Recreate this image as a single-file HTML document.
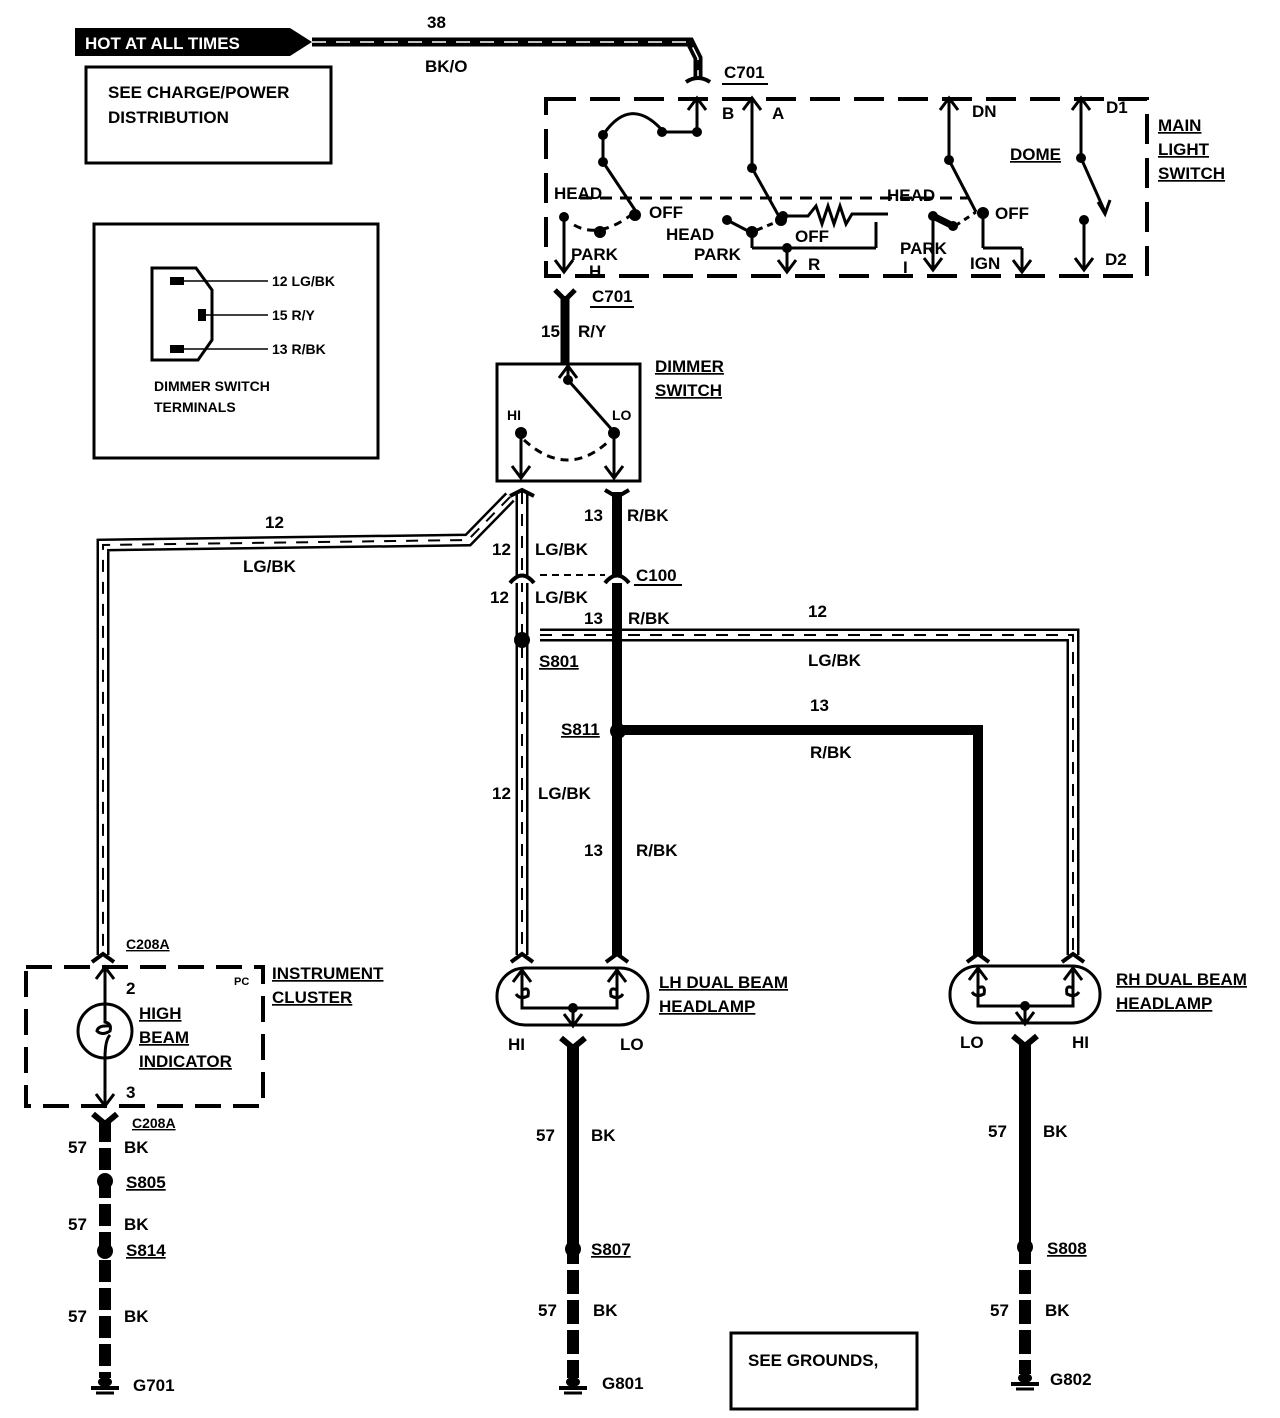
<!DOCTYPE html>
<html><head><meta charset="utf-8"><style>
html,body{margin:0;padding:0;background:#fff;}
svg{display:block}
text{font-family:"Liberation Sans",Arial,sans-serif;font-weight:bold;fill:#000}
.t{font-size:17px}
.s{font-size:14px}
</style></head><body>
<svg width="1280" height="1418" viewBox="0 0 1280 1418" xmlns="http://www.w3.org/2000/svg">
<defs>
<g id="gnd"><line x1="0" y1="0" x2="0" y2="12" stroke="#000" stroke-width="4"/><ellipse cx="0" cy="8" rx="7" ry="5" fill="#000"/><line x1="-14" y1="14" x2="14" y2="14" stroke="#000" stroke-width="4"/><line x1="-9" y1="19" x2="9" y2="19" stroke="#000" stroke-width="3"/></g>
<g id="up"><path d="M-9,12 L0,0 L9,12 M0,0 V14" stroke="#000" stroke-width="3" fill="none"/></g>
<g id="dn"><path d="M-9,-12 L0,0 L9,-12 M0,0 V-14" stroke="#000" stroke-width="3" fill="none"/></g>
</defs>

<!-- HOT AT ALL TIMES -->
<path d="M75,28 H290 L312,42 L290,56 H75 Z" fill="#000"/>
<text x="85" y="49" class="t" fill="#fff" style="fill:#fff">HOT AT ALL TIMES</text>
<polyline points="312,42 690,42 698,58 698,78" fill="none" stroke="#000" stroke-width="9"/>
<polyline points="312,42 690,42 698,58 698,78" fill="none" stroke="#fff" stroke-width="1.5" stroke-dasharray="14 10"/>
<text x="427" y="28" class="t">38</text>
<text x="425" y="72" class="t">BK/O</text>
<path d="M686,82 Q698,74 710,82" stroke="#000" stroke-width="4" fill="none"/>
<text x="724" y="78" class="t">C701</text>
<line x1="722" y1="84" x2="768" y2="84" stroke="#000" stroke-width="2"/>

<rect x="86" y="67" width="245" height="96" fill="none" stroke="#000" stroke-width="3"/>
<text x="108" y="98" class="t">SEE CHARGE/POWER</text>
<text x="108" y="123" class="t">DISTRIBUTION</text>

<!-- dimmer terminals box -->
<rect x="94" y="224" width="284" height="234" fill="none" stroke="#000" stroke-width="3"/>
<path d="M152,268 H196 L212,290 V340 L198,360 H152 Z" fill="none" stroke="#000" stroke-width="3"/>
<rect x="170" y="277" width="14" height="8" fill="#000"/><rect x="198" y="309" width="8" height="12" fill="#000"/><rect x="170" y="345" width="14" height="8" fill="#000"/>
<line x1="184" y1="281" x2="268" y2="281" stroke="#000" stroke-width="1.5"/>
<line x1="206" y1="315" x2="268" y2="315" stroke="#000" stroke-width="1.5"/>
<line x1="184" y1="349" x2="268" y2="349" stroke="#000" stroke-width="1.5"/>
<text x="272" y="286" class="s">12 LG/BK</text>
<text x="272" y="320" class="s">15 R/Y</text>
<text x="272" y="354" class="s">13 R/BK</text>
<text x="154" y="391" class="s">DIMMER SWITCH</text>
<text x="154" y="412" class="s">TERMINALS</text>

<!-- main light switch -->
<rect x="546" y="99" width="601" height="177" fill="none" stroke="#000" stroke-width="4" stroke-dasharray="30 14"/>
<g stroke="#000" stroke-width="3" fill="none">
<path d="M603,135 Q630,95 662,130"/><line x1="603" y1="135" x2="603" y2="162"/><line x1="662" y1="132" x2="697" y2="132"/><line x1="697" y1="132" x2="697" y2="98"/>
<line x1="603" y1="162" x2="635" y2="210"/>
<line x1="752" y1="98" x2="752" y2="168"/><line x1="752" y1="168" x2="781" y2="220"/>
<line x1="949" y1="98" x2="949" y2="160"/><line x1="949" y1="160" x2="976" y2="212"/>
<line x1="1081" y1="98" x2="1081" y2="158"/><line x1="1081" y1="158" x2="1105" y2="212"/>
<line x1="564" y1="217" x2="564" y2="272"/>
<line x1="1084" y1="220" x2="1084" y2="270"/>
<line x1="727" y1="220" x2="750" y2="232"/><line x1="752" y1="234" x2="752" y2="248"/><line x1="752" y1="248" x2="876" y2="248"/><line x1="876" y1="248" x2="876" y2="222"/>
<line x1="787" y1="248" x2="787" y2="272"/>
<polyline points="783,216 808,216 816,206 822,224 828,206 834,224 840,206 846,224 852,214 888,214"/>
<line x1="933" y1="216" x2="933" y2="270"/>
<line x1="983" y1="214" x2="983" y2="248"/><line x1="983" y1="248" x2="1022" y2="248"/><line x1="1022" y1="248" x2="1022" y2="272"/>
<path d="M574,225 Q600,240 635,212" stroke-dasharray="8 6"/>
<path d="M580,198 H969" stroke-dasharray="12 8"/>
<path d="M757,230 L781,220" stroke-dasharray="6 5"/>
<path d="M955,226 L976,212" stroke-dasharray="6 5"/>
</g>
<line x1="933" y1="216" x2="953" y2="226" stroke="#000" stroke-width="7"/>
<g fill="#000">
<circle cx="603" cy="135" r="5"/><circle cx="603" cy="162" r="5"/><circle cx="662" cy="132" r="5"/><circle cx="697" cy="132" r="5"/>
<circle cx="635" cy="215" r="6"/><circle cx="600" cy="232" r="6"/><circle cx="564" cy="217" r="5"/>
<circle cx="752" cy="168" r="5"/><circle cx="781" cy="220" r="6"/><circle cx="727" cy="220" r="5"/><circle cx="752" cy="232" r="6"/><circle cx="787" cy="248" r="5"/>
<circle cx="783" cy="216" r="5"/><circle cx="933" cy="216" r="5"/><circle cx="953" cy="226" r="5"/>
<circle cx="949" cy="160" r="5"/><circle cx="983" cy="213" r="6"/>
<circle cx="1081" cy="158" r="5"/><circle cx="1084" cy="220" r="5"/>
</g>
<use href="#up" x="697" y="98"/><use href="#up" x="752" y="98"/><use href="#up" x="949" y="98"/><use href="#up" x="1081" y="98"/>
<use href="#dn" x="564" y="272"/><use href="#dn" x="787" y="272"/><use href="#dn" x="933" y="270"/><use href="#dn" x="1022" y="272"/><use href="#dn" x="1084" y="270"/>
<path d="M1098,202 L1105,214 L1110,200" stroke="#000" stroke-width="3" fill="none"/>
<text x="722" y="119" class="t">B</text><text x="772" y="119" class="t">A</text><text x="972" y="117" class="t">DN</text><text x="1106" y="113" class="t">D1</text>
<text x="554" y="199" class="t">HEAD</text><text x="649" y="218" class="t">OFF</text><text x="887" y="201" class="t">HEAD</text><text x="995" y="219" class="t">OFF</text>
<text x="666" y="240" class="t">HEAD</text><text x="795" y="242" class="t">OFF</text><text x="694" y="260" class="t">PARK</text>
<text x="571" y="260" class="t">PARK</text><text x="589" y="277" class="t">H</text><text x="808" y="270" class="t">R</text>
<text x="900" y="254" class="t">PARK</text><text x="903" y="273" class="t">I</text><text x="970" y="269" class="t">IGN</text><text x="1105" y="265" class="t">D2</text>
<text x="1010" y="160" class="t" text-decoration="underline">DOME</text>
<text x="1158" y="131" class="t" text-decoration="underline">MAIN</text>
<text x="1158" y="155" class="t" text-decoration="underline">LIGHT</text>
<text x="1158" y="179" class="t" text-decoration="underline">SWITCH</text>

<!-- C701 lower, 15 R/Y -->
<path d="M555,290 L565,300 L575,290" stroke="#000" stroke-width="5" fill="none"/>
<line x1="565" y1="296" x2="565" y2="364" stroke="#000" stroke-width="9"/>
<text x="592" y="302" class="t">C701</text><line x1="590" y1="307" x2="634" y2="307" stroke="#000" stroke-width="2"/>
<text x="541" y="337" class="t">15</text><text x="578" y="337" class="t">R/Y</text>

<!-- dimmer switch -->
<rect x="497" y="364" width="143" height="117" fill="none" stroke="#000" stroke-width="3"/>
<use href="#up" x="568" y="366"/>
<line x1="568" y1="380" x2="614" y2="432" stroke="#000" stroke-width="3"/>
<circle cx="568" cy="380" r="5"/><circle cx="614" cy="433" r="6"/><circle cx="521" cy="433" r="6"/>
<line x1="521" y1="433" x2="521" y2="478" stroke="#000" stroke-width="3"/><line x1="614" y1="433" x2="614" y2="478" stroke="#000" stroke-width="3"/>
<use href="#dn" x="521" y="478"/><use href="#dn" x="614" y="478"/>
<path d="M524,440 Q568,480 610,440" stroke="#000" stroke-width="3" fill="none" stroke-dasharray="8 6"/>
<text x="507" y="420" class="s">HI</text><text x="612" y="420" class="s">LO</text>
<text x="655" y="372" class="t" text-decoration="underline">DIMMER</text>
<text x="655" y="396" class="t" text-decoration="underline">SWITCH</text>

<!-- LG/BK wires -->
<g fill="none" stroke-linejoin="miter">
<polyline id="w1" points="510,497 468,540 103,545 103,955"/>
<polyline points="522,492 522,955"/>
</g>
<g fill="none">
<path d="M510,497 L468,540 L103,545 L103,955 M522,492 V955 M540,635 H1073 V955" stroke="#000" stroke-width="13"/>
<path d="M510,497 L468,540 L103,545 L103,955 M522,492 V955 M540,635 H1073 V955" stroke="#fff" stroke-width="8"/>
<path d="M510,497 L468,540 L103,545 L103,955 M522,492 V955 M540,635 H1073 V955" stroke="#000" stroke-width="2" stroke-dasharray="12 10"/>
</g>
<rect x="532" y="626" width="8" height="20" fill="#fff"/>
<!-- R/BK wires -->
<path d="M617,492 V955 M617,730 H978 V955" stroke="#000" stroke-width="10" fill="none"/>
<path d="M510,496 L522,490 L534,496" stroke="#000" stroke-width="4" fill="none"/>
<path d="M605,490 L617,497 L629,490" stroke="#000" stroke-width="4" fill="none"/>
<!-- C100 -->
<path d="M510,583 Q522,568 534,583 M605,583 Q617,568 629,583" stroke="#000" stroke-width="4" fill="#fff"/>
<line x1="540" y1="575" x2="605" y2="575" stroke="#000" stroke-width="2" stroke-dasharray="7 5"/>
<text x="636" y="581" class="t">C100</text><line x1="634" y1="585" x2="682" y2="585" stroke="#000" stroke-width="2"/>
<circle cx="522" cy="640" r="8"/><circle cx="618" cy="731" r="8"/>
<text x="265" y="528" class="t">12</text><text x="243" y="572" class="t">LG/BK</text>
<text x="584" y="521" class="t">13</text><text x="627" y="521" class="t">R/BK</text>
<text x="492" y="555" class="t">12</text><text x="535" y="555" class="t">LG/BK</text>
<text x="490" y="603" class="t">12</text><text x="535" y="603" class="t">LG/BK</text>
<text x="584" y="624" class="t">13</text><text x="628" y="624" class="t">R/BK</text>
<text x="808" y="617" class="t">12</text><text x="808" y="666" class="t">LG/BK</text>
<text x="539" y="667" class="t" text-decoration="underline">S801</text>
<text x="810" y="711" class="t">13</text><text x="810" y="758" class="t">R/BK</text>
<text x="561" y="735" class="t" text-decoration="underline">S811</text>
<text x="492" y="799" class="t">12</text><text x="538" y="799" class="t">LG/BK</text>
<text x="584" y="856" class="t">13</text><text x="636" y="856" class="t">R/BK</text>

<!-- connectors near bottom -->
<path d="M92,962 L103,954 L114,962 M511,962 L522,954 L533,962 M606,962 L617,954 L628,962 M967,962 L978,954 L989,962 M1062,962 L1073,954 L1084,962" stroke="#000" stroke-width="4" fill="none"/>

<!-- instrument cluster -->
<rect x="26" y="967" width="237" height="139" fill="none" stroke="#000" stroke-width="4" stroke-dasharray="26 12"/>
<text x="126" y="949" class="s" text-decoration="underline">C208A</text>
<use href="#up" x="105" y="967"/>
<line x1="105" y1="967" x2="105" y2="1106" stroke="#000" stroke-width="3"/>
<circle cx="105" cy="1031" r="27" fill="#fff" stroke="#000" stroke-width="3"/>
<path d="M105,1004 V1022 Q112,1024 110,1031 Q102,1036 97,1031 Q98,1025 110,1026 M110,1035 Q105,1040 105,1058" stroke="#000" stroke-width="3" fill="none"/>
<use href="#dn" x="105" y="1106"/>
<text x="126" y="994" class="t">2</text><text x="126" y="1098" class="t">3</text>
<text x="234" y="985" style="font-size:11px">PC</text>
<text x="139" y="1019" class="t" text-decoration="underline">HIGH</text>
<text x="139" y="1043" class="t" text-decoration="underline">BEAM</text>
<text x="139" y="1067" class="t" text-decoration="underline">INDICATOR</text>
<text x="272" y="979" class="t" text-decoration="underline">INSTRUMENT</text>
<text x="272" y="1003" class="t" text-decoration="underline">CLUSTER</text>

<!-- headlamps -->
<g fill="none" stroke="#000" stroke-width="3">
<rect x="497" y="968" width="151" height="57" rx="28"/>
<rect x="950" y="966" width="150" height="57" rx="28"/>
<path d="M522,970 V1008 H617 V970 M522,990 Q530,986 528,996 Q520,1000 516,994 M617,990 Q609,986 611,996 Q619,1000 623,994"/>
<path d="M978,970 V1006 H1073 V970 M978,988 Q986,984 984,994 Q976,998 972,992 M1073,988 Q1065,984 1067,994 Q1075,998 1079,992"/>
</g>
<use href="#up" x="522" y="970"/><use href="#up" x="617" y="970"/><use href="#up" x="978" y="968"/><use href="#up" x="1073" y="968"/>
<circle cx="573" cy="1008" r="5"/><circle cx="1025" cy="1006" r="5"/>
<line x1="573" y1="1008" x2="573" y2="1026" stroke="#000" stroke-width="3"/><use href="#dn" x="573" y="1026"/>
<line x1="1025" y1="1006" x2="1025" y2="1024" stroke="#000" stroke-width="3"/><use href="#dn" x="1025" y="1024"/>
<text x="659" y="988" class="t" text-decoration="underline">LH DUAL BEAM</text>
<text x="659" y="1012" class="t" text-decoration="underline">HEADLAMP</text>
<text x="1116" y="985" class="t" text-decoration="underline">RH DUAL BEAM</text>
<text x="1116" y="1009" class="t" text-decoration="underline">HEADLAMP</text>
<text x="508" y="1050" class="t">HI</text><text x="620" y="1050" class="t">LO</text>
<text x="960" y="1048" class="t">LO</text><text x="1072" y="1048" class="t">HI</text>

<!-- ground wires -->
<path d="M93,1114 L105,1124 L117,1114" stroke="#000" stroke-width="6" fill="none"/>
<path d="M561,1038 L573,1048 L585,1038" stroke="#000" stroke-width="6" fill="none"/>
<path d="M1013,1036 L1025,1046 L1037,1036" stroke="#000" stroke-width="6" fill="none"/>
<line x1="105" y1="1120" x2="105" y2="1378" stroke="#000" stroke-width="12" stroke-dasharray="22 6"/>
<line x1="573" y1="1044" x2="573" y2="1240" stroke="#000" stroke-width="12"/>
<line x1="573" y1="1240" x2="573" y2="1378" stroke="#000" stroke-width="12" stroke-dasharray="24 6"/>
<line x1="1025" y1="1042" x2="1025" y2="1240" stroke="#000" stroke-width="12"/>
<line x1="1025" y1="1240" x2="1025" y2="1374" stroke="#000" stroke-width="12" stroke-dasharray="24 6"/>
<circle cx="105" cy="1181" r="8"/><circle cx="105" cy="1251" r="8"/><circle cx="573" cy="1249" r="8"/><circle cx="1025" cy="1247" r="8"/>
<use href="#gnd" x="105" y="1374"/><use href="#gnd" x="573" y="1374"/><use href="#gnd" x="1025" y="1370"/>
<text x="132" y="1128" class="s" text-decoration="underline">C208A</text>
<text x="68" y="1153" class="t">57</text><text x="124" y="1153" class="t">BK</text>
<text x="126" y="1188" class="t" text-decoration="underline">S805</text>
<text x="68" y="1230" class="t">57</text><text x="124" y="1230" class="t">BK</text>
<text x="126" y="1256" class="t" text-decoration="underline">S814</text>
<text x="68" y="1322" class="t">57</text><text x="124" y="1322" class="t">BK</text>
<text x="133" y="1391" class="t">G701</text>
<text x="536" y="1141" class="t">57</text><text x="591" y="1141" class="t">BK</text>
<text x="591" y="1255" class="t" text-decoration="underline">S807</text>
<text x="538" y="1316" class="t">57</text><text x="593" y="1316" class="t">BK</text>
<text x="602" y="1389" class="t">G801</text>
<text x="988" y="1137" class="t">57</text><text x="1043" y="1137" class="t">BK</text>
<text x="1047" y="1254" class="t" text-decoration="underline">S808</text>
<text x="990" y="1316" class="t">57</text><text x="1045" y="1316" class="t">BK</text>
<text x="1050" y="1385" class="t">G802</text>

<rect x="731" y="1333" width="186" height="76" fill="none" stroke="#000" stroke-width="3"/>
<text x="748" y="1366" class="t">SEE GROUNDS,</text>
</svg>
</body></html>
